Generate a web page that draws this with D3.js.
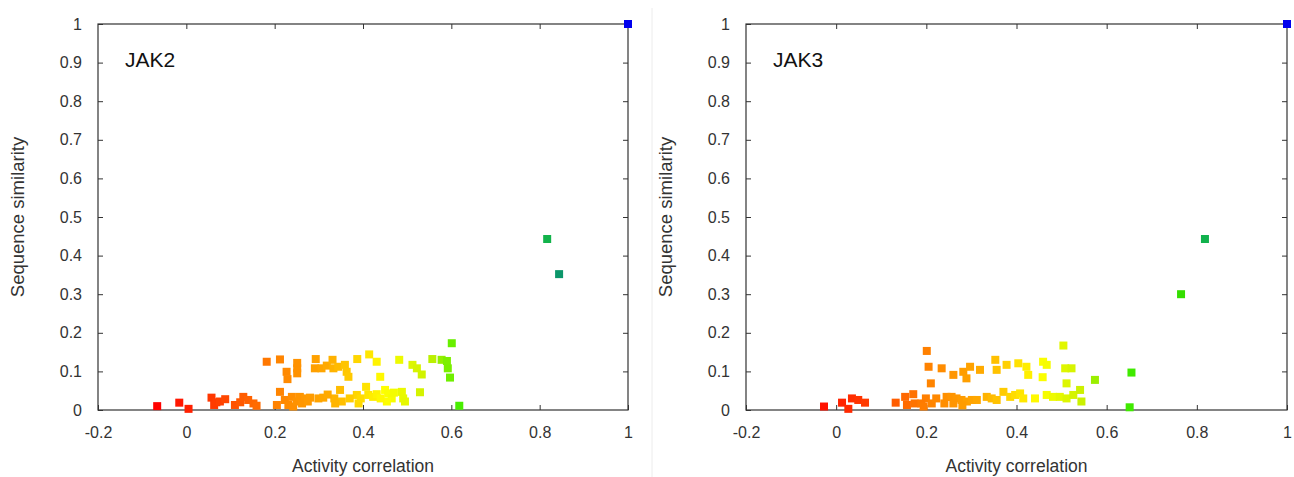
<!DOCTYPE html>
<html><head><meta charset="utf-8">
<script src="https://cdn.jsdelivr.net/npm/d3@7"></script>
<style>body{margin:0;background:#fff}svg{display:block;font-family:"Liberation Sans",Arial,sans-serif}</style>
</head><body><svg id="c" width="1294" height="477"></svg>
<script>
const xTicks = [-0.2, 0, 0.2, 0.4, 0.6, 0.8, 1];
const yTicks = [0, 0.1, 0.2, 0.3, 0.4, 0.5, 0.6, 0.7, 0.8, 0.9, 1];
const panelTitles = ["JAK2", "JAK3"];
const xLabel = "Activity correlation";
const yLabel = "Sequence similarity";

const jak2X = [-0.066,-0.016,0.005,0.057,0.063,0.068,0.076,0.088,0.110,0.122,0.129,0.140,0.152,0.159,
 0.182,0.212,0.227,0.229,0.251,0.251,0.251,0.205,0.212,0.223,0.231,0.239,0.242,0.250,0.257,0.269,0.280,0.299,0.310,0.262,0.275,
 0.293,0.291,0.306,0.318,0.331,0.333,0.344,0.359,0.363,0.367,0.387,0.414,0.431,0.439,0.482,0.512,0.522,0.533,0.557,0.578,0.590,0.592,0.597,0.601,0.618,
 0.335,0.348,0.352,0.337,0.386,0.390,0.407,0.412,0.423,0.431,0.450,0.457,0.465,0.454,0.488,0.491,0.495,0.529,
 0.320,0.370,0.395,0.470,0.440,0.817,0.844,1.000];
const jak2Y = [0.010,0.019,0.003,0.032,0.013,0.020,0.022,0.028,0.013,0.020,0.034,0.026,0.017,0.011,
 0.125,0.131,0.099,0.080,0.108,0.122,0.095,0.013,0.047,0.026,0.013,0.034,0.009,0.022,0.034,0.030,0.032,0.030,0.032,0.017,0.022,
 0.132,0.108,0.108,0.115,0.130,0.108,0.112,0.117,0.099,0.086,0.132,0.144,0.125,0.086,0.130,0.117,0.108,0.092,0.132,0.130,0.127,0.108,0.084,0.173,0.011,
 0.030,0.052,0.022,0.017,0.039,0.017,0.060,0.039,0.034,0.041,0.052,0.043,0.030,0.022,0.047,0.030,0.022,0.046,
 0.040,0.030,0.030,0.045,0.030,0.443,0.352,1.000];

const jak3X = [-0.027,0.013,0.027,0.035,0.049,0.064,0.132,0.153,0.157,0.171,0.174,0.201,0.205,0.210,0.199,0.189,0.212,0.194,
 0.234,0.260,0.282,0.289,0.297,0.319,0.353,0.356,0.378,0.404,0.422,0.426,0.459,0.467,0.458,0.504,0.508,0.522,0.511,0.574,0.655,0.651,
 0.245,0.256,0.267,0.278,0.290,0.301,0.312,0.334,0.345,0.356,0.371,0.386,0.397,0.408,0.415,0.441,0.467,0.481,0.496,0.511,0.526,0.541,0.544,
 0.240,0.260,0.280,0.222,0.765,0.818,1.000];
const jak3Y = [0.009,0.019,0.003,0.030,0.026,0.019,0.019,0.034,0.013,0.041,0.017,0.153,0.112,0.069,0.030,0.017,0.017,0.009,
 0.108,0.091,0.099,0.082,0.112,0.104,0.130,0.104,0.117,0.121,0.112,0.091,0.125,0.117,0.085,0.167,0.108,0.108,0.069,0.078,0.097,0.007,
 0.034,0.034,0.030,0.026,0.022,0.026,0.026,0.034,0.030,0.026,0.047,0.034,0.039,0.043,0.030,0.030,0.039,0.034,0.034,0.030,0.039,0.052,0.022,
 0.017,0.017,0.012,0.030,0.300,0.443,1.000];

const colorStops = [-0.07, 0.05, 0.2, 0.32, 0.45, 0.55, 0.62, 0.77, 0.82, 0.85, 1];
const colorRange = ["#ff0000","#ff3300","#ff8000","#ffaa00","#ffff00","#c8f000","#44ee00","#33dd00","#10b050","#0a9070","#0000ee"];
const color = d3.scaleLinear().domain(colorStops).range(colorRange).clamp(true);

const svg = d3.select("#c");
svg.append("line").attr("x1",652).attr("x2",652).attr("y1",8).attr("y2",477).attr("stroke","#ececec");

const panels = [
  {title: panelTitles[0], xs: jak2X, ys: jak2Y, x0: 98, x1: 628},
  {title: panelTitles[1], xs: jak3X, ys: jak3Y, x0: 746, x1: 1287}
];
const plotTop = 24, plotBottom = 410, tickLen = 5, ms = 8;
const fmt = d => String(d);

panels.forEach(p => {
  const x = d3.scaleLinear().domain([-0.2, 1]).range([p.x0, p.x1]);
  const y = d3.scaleLinear().domain([0, 1]).range([plotBottom, plotTop]);
  const g = svg.append("g");
  const axStyle = sel => { sel.select(".domain").remove(); sel.selectAll("line").attr("stroke","#333");
    sel.selectAll("text").attr("fill","#333").style("font-size","16px").style("font-family","'Liberation Sans',Arial,sans-serif"); };
  g.append("g").attr("transform",`translate(0,${plotBottom})`)
    .call(d3.axisBottom(x).tickValues(xTicks).tickFormat(fmt).tickSizeInner(-tickLen).tickPadding(17))
    .call(axStyle);
  g.append("g").attr("transform",`translate(0,${plotTop})`)
    .call(d3.axisTop(x).tickValues(xTicks.slice(1,-1)).tickFormat("").tickSizeInner(-tickLen)).call(axStyle);
  g.append("g").attr("transform",`translate(${p.x0},0)`)
    .call(d3.axisLeft(y).tickValues(yTicks).tickFormat(fmt).tickSizeInner(-tickLen).tickPadding(16))
    .call(axStyle);
  g.append("g").attr("transform",`translate(${p.x1},0)`)
    .call(d3.axisRight(y).tickValues(yTicks.slice(1,-1)).tickFormat("").tickSizeInner(-tickLen)).call(axStyle);
  g.append("rect").attr("x",p.x0).attr("y",plotTop).attr("width",p.x1-p.x0).attr("height",plotBottom-plotTop)
    .attr("fill","none").attr("stroke","#333").attr("stroke-width",1.2);
  g.append("text").attr("x",(p.x0+p.x1)/2).attr("y",472).attr("text-anchor","middle")
    .attr("fill","#333").style("font-size","17.5px").text(xLabel);
  g.append("text").attr("transform",`translate(${p.x0-74},${(plotTop+plotBottom)/2}) rotate(-90)`).attr("text-anchor","middle")
    .attr("fill","#333").style("font-size","18.5px").text(yLabel);
  g.append("text").attr("x",p.x0+27).attr("y",67).attr("fill","#111").style("font-size","21px").text(p.title);
  const data = p.xs.map((v,i)=>({x:v,y:p.ys[i]}));
  g.append("g").selectAll("rect").data(data).join("rect")
    .attr("x",d=>x(d.x)-ms/2).attr("y",d=>y(d.y)-ms/2).attr("width",ms).attr("height",ms)
    .attr("fill",d=>color(d.x));
});
</script></body></html>
